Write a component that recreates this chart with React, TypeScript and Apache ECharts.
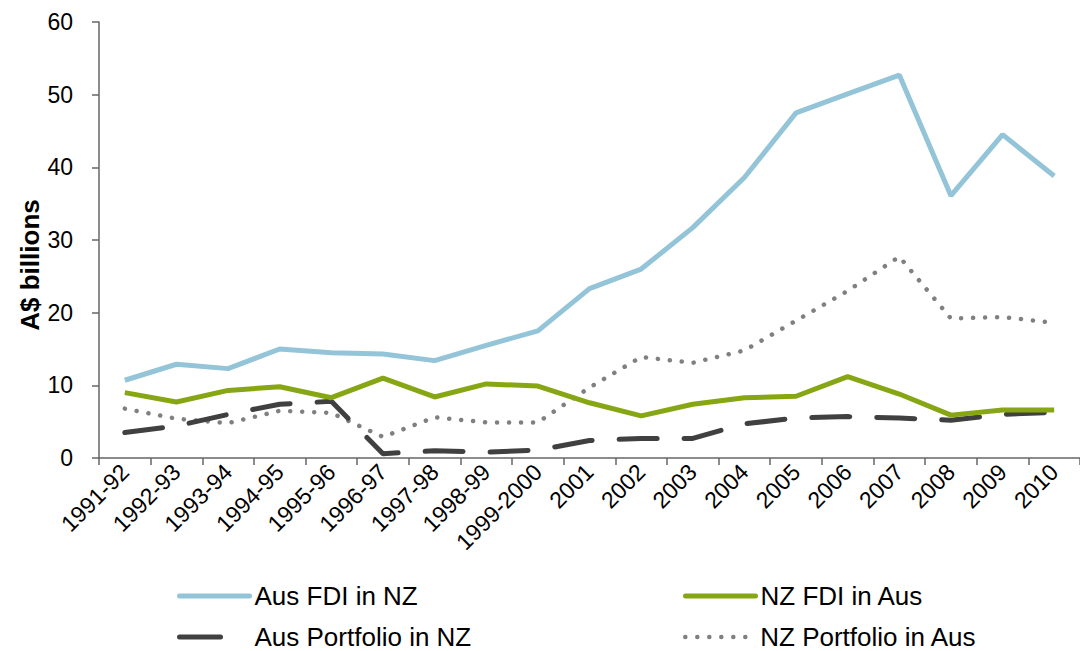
import React, { useEffect, useRef } from "react";
import * as echarts from "echarts";

const categories = [
  "1991-92", "1992-93", "1993-94", "1994-95", "1995-96", "1996-97", "1997-98",
  "1998-99", "1999-2000", "2001", "2002", "2003", "2004", "2005", "2006",
  "2007", "2008", "2009", "2010",
];

const ausFdiInNz = [10.7, 12.9, 12.3, 15.0, 14.5, 14.3, 13.4, 15.5, 17.5, 23.3, 26.0, 31.7, 38.6, 47.5, 50.1, 52.7, 36.1, 44.5, 38.8];
const nzFdiInAus = [9.0, 7.7, 9.3, 9.8, 8.3, 11.0, 8.4, 10.2, 9.9, 7.6, 5.8, 7.4, 8.3, 8.5, 11.2, 8.8, 5.9, 6.6, 6.6];
const ausPortfolioInNz = [3.5, 4.4, 6.0, 7.4, 7.8, 0.6, 1.0, 0.8, 1.1, 2.4, 2.7, 2.7, 4.7, 5.5, 5.7, 5.5, 5.2, 6.0, 6.3];
const nzPortfolioInAus = [6.8, 5.4, 4.8, 6.5, 6.2, 2.9, 5.6, 4.9, 4.9, 9.7, 13.9, 13.1, 14.8, 18.9, 23.0, 27.7, 19.2, 19.4, 18.6];

const yTicks = { min: 0, max: 60, interval: 10 };

const FONT = '"Liberation Sans", Arial, sans-serif';

export default function App() {
  const ref = useRef<HTMLDivElement>(null);
  useEffect(() => {
    document.body.style.margin = "0";
    const chart = echarts.init(ref.current!, undefined, { renderer: "svg" });
    const legendText = { fontSize: 26, fontFamily: FONT, color: "#000", lineHeight: 26 };
    const legendBase = {
      orient: "horizontal",
      itemWidth: 70,
      itemHeight: 14,
      itemGap: 10,
      padding: 0,
      textStyle: legendText,
      itemStyle: { opacity: 0, borderWidth: 0 },
      selectedMode: false,
    };
    chart.setOption({
      animation: false,
      backgroundColor: "#fff",
      grid: { left: 99, top: 22, width: 991, height: 436, containLabel: false },
      xAxis: {
        type: "category",
        data: categories,
        boundaryGap: true,
        axisLine: { lineStyle: { color: "#666", width: 1.5 } },
        axisTick: { show: true, length: 7, lineStyle: { color: "#666", width: 1.5 } },
        axisLabel: { rotate: 45, interval: 0, fontSize: 23, fontFamily: FONT, color: "#000", margin: 10 },
        splitLine: { show: false },
      },
      yAxis: {
        type: "value",
        min: yTicks.min,
        max: yTicks.max,
        interval: yTicks.interval,
        axisLine: { show: true, lineStyle: { color: "#666", width: 1.5 } },
        axisTick: { show: true, length: 7, lineStyle: { color: "#666", width: 1.5 } },
        axisLabel: { fontSize: 23, fontFamily: FONT, color: "#000", margin: 26 },
        splitLine: { show: false },
      },
      graphic: [
        {
          type: "text",
          x: 30,
          y: 265,
          rotation: Math.PI / 2,
          style: {
            text: "A$ billions",
            font: `bold 26px ${FONT}`,
            textAlign: "center",
            textVerticalAlign: "middle",
            fill: "#000",
          },
        },
      ],
      legend: [
        {
          ...legendBase,
          data: ["Aus FDI in NZ"],
          left: 177,
          top: 583,
          lineStyle: { width: 5, cap: "round" },
        },
        {
          ...legendBase,
          data: ["Aus Portfolio in NZ"],
          left: 177,
          top: 624,
          lineStyle: { width: 5, type: [41, 40], cap: "round" },
        },
        {
          ...legendBase,
          data: ["NZ FDI in Aus"],
          left: 683,
          top: 583,
          lineStyle: { width: 5, cap: "round" },
        },
        {
          ...legendBase,
          data: ["NZ Portfolio in Aus"],
          left: 683,
          top: 624,
          lineStyle: { width: 4.5, type: [0.1, 11.9], cap: "round" },
        },
      ],
      series: [
        {
          name: "NZ Portfolio in Aus",
          type: "line",
          data: nzPortfolioInAus,
          showSymbol: false,
          symbol: "none",
          lineStyle: { color: "#808080", width: 4.5, type: [0.1, 11.9], cap: "round" },
          itemStyle: { color: "#808080" },
        },
        {
          name: "Aus Portfolio in NZ",
          type: "line",
          data: ausPortfolioInNz,
          showSymbol: false,
          symbol: "none",
          lineStyle: { color: "#404040", width: 5, type: [38, 27], cap: "round" },
          itemStyle: { color: "#404040" },
        },
        {
          name: "NZ FDI in Aus",
          type: "line",
          data: nzFdiInAus,
          showSymbol: false,
          symbol: "none",
          lineStyle: { color: "#87A614", width: 5 },
          itemStyle: { color: "#87A614" },
        },
        {
          name: "Aus FDI in NZ",
          type: "line",
          data: ausFdiInNz,
          showSymbol: false,
          symbol: "none",
          lineStyle: { color: "#93C4D7", width: 5 },
          itemStyle: { color: "#93C4D7" },
        },
      ],
    });
    return () => chart.dispose();
  }, []);
  return <div ref={ref} style={{ width: 1080, height: 651 }} />;
}
